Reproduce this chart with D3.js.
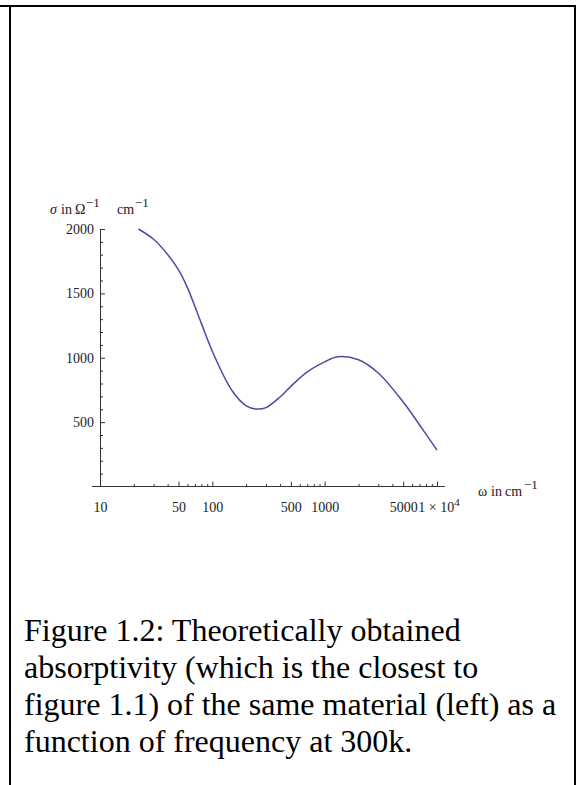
<!DOCTYPE html>
<html>
<head>
<meta charset="utf-8">
<script src="https://cdn.jsdelivr.net/npm/d3@7"></script>
<style>
  body { margin: 0; background: #fff; }
  svg { display: block; }
</style>
</head>
<body>
<svg id="fig" width="582" height="785"></svg>
<script>
// curve: omega (cm^-1) vs sigma (ohm^-1 cm^-1)
const omega = [22, 30, 40, 50, 60, 80, 100, 150, 200, 250, 300, 400, 500, 700, 1000, 1300, 2000, 3000, 5000, 7000, 10000];
const sigma = [2000, 1920, 1802, 1682, 1545, 1265, 1050, 744, 627, 602, 613, 695, 778, 890, 968, 1008, 985, 882, 656, 478, 283];

const yMajor = [500, 1000, 1500, 2000];
const yMinor = [100, 200, 300, 400, 600, 700, 800, 900, 1100, 1200, 1300, 1400, 1600, 1700, 1800, 1900];
const xMajor = [10, 50, 100, 500, 1000, 5000, 10000];
const xMinor = [20, 30, 40, 60, 70, 80, 90, 200, 300, 400, 600, 700, 800, 900, 2000, 3000, 4000, 6000, 7000, 8000, 9000];

const caption = [
  "Figure 1.2: Theoretically obtained",
  "absorptivity (which is the closest to",
  "figure 1.1) of the same material (left) as a",
  "function of frequency at 300k."
];

const serif = "'Liberation Serif', 'Times New Roman', serif";
const svg = d3.select("#fig");

// table cell borders
svg.append("line").attr("x1", 0).attr("x2", 576).attr("y1", 6).attr("y2", 6)
  .attr("stroke", "#000").attr("stroke-width", 2);
svg.append("line").attr("x1", 10).attr("x2", 10).attr("y1", 5).attr("y2", 785)
  .attr("stroke", "#000").attr("stroke-width", 2);
svg.append("line").attr("x1", 575).attr("x2", 575).attr("y1", 5).attr("y2", 785)
  .attr("stroke", "#000").attr("stroke-width", 2);

const x = d3.scaleLog().domain([10, 10000]).range([100, 437]);
const y = d3.scaleLinear().domain([0, 2000]).range([486.5, 229]);

const axisCol = "#333";
const labSize = 14;
const chart = svg.append("g");

// y axis
chart.append("g").attr("transform", "translate(100,0)")
  .call(d3.axisLeft(y).tickValues(yMajor).tickSizeInner(-5).tickSizeOuter(0).tickPadding(6)
    .tickFormat(d3.format("d")));
chart.append("g").attr("transform", "translate(100,0)")
  .call(d3.axisLeft(y).tickValues(yMinor).tickSizeInner(-3).tickSizeOuter(0).tickFormat(""))
  .select(".domain").remove();

// x axis
const xAx = chart.append("g").attr("transform", "translate(0,486.5)")
  .call(d3.axisBottom(x).tickValues(xMajor).tickSizeInner(-5).tickSizeOuter(0).tickPadding(16)
    .tickFormat(d => d === 10000 ? "" : d3.format("d")(d)));
xAx.select(".domain").remove();
chart.append("g").attr("transform", "translate(0,486.5)")
  .call(d3.axisBottom(x).tickValues(xMinor).tickSizeInner(-2.5).tickSizeOuter(0).tickFormat(""))
  .select(".domain").remove();
chart.append("line")
  .attr("x1", x(10) - 8).attr("x2", x(10000) + 8)
  .attr("y1", 486.5).attr("y2", 486.5)
  .attr("stroke", axisCol);

chart.selectAll(".tick line").attr("stroke", axisCol);
chart.selectAll(".domain").attr("stroke", axisCol);
chart.selectAll(".tick text")
  .style("font-family", serif).style("font-size", labSize + "px").attr("fill", "#222");

// "1 × 10^4" label
const lab = chart.append("text")
  .attr("x", x(10000) + 2).attr("y", 486.5 + 16).attr("dy", "0.71em")
  .attr("text-anchor", "middle")
  .style("font-family", serif).style("font-size", labSize + "px").attr("fill", "#222");
lab.append("tspan").text("1 \u00d7 10");
lab.append("tspan").attr("dy", -6).style("font-size", "11px").text("4");

// axis titles
const yt = chart.append("text").attr("y", 214)
  .style("font-family", serif).style("font-size", "14px").attr("fill", "#222");
yt.append("tspan").attr("x", 50).attr("font-style", "italic").text("\u03c3");
yt.append("tspan").attr("x", 61).text("in");
yt.append("tspan").attr("x", 75).text("\u03a9");
yt.append("tspan").attr("x", 86).attr("dy", -7).style("font-size", "13px").text("\u22121");
yt.append("tspan").attr("x", 117).attr("dy", 7).text("cm");
yt.append("tspan").attr("x", 135).attr("dy", -7).style("font-size", "13px").text("\u22121");

const xt = chart.append("text").attr("y", 496)
  .style("font-family", serif).style("font-size", "14px").attr("fill", "#222");
xt.append("tspan").attr("x", 478).text("\u03c9");
xt.append("tspan").attr("x", 491).text("in");
xt.append("tspan").attr("x", 505).text("cm");
xt.append("tspan").attr("x", 524).attr("dy", -7).style("font-size", "13px").text("\u22121");

// curve
const pts = omega.map((w, i) => [w, sigma[i]]);
chart.append("path")
  .datum(pts)
  .attr("fill", "none")
  .attr("stroke", "#4b4ba3")
  .attr("stroke-width", 1.5)
  .attr("d", d3.line().x(d => x(d[0])).y(d => y(d[1])).curve(d3.curveCatmullRom.alpha(0.5)));

// caption
svg.append("g").selectAll("text")
  .data(caption)
  .enter().append("text")
  .attr("x", 24)
  .attr("y", (d, i) => 641 + i * 37)
  .style("font-family", serif)
  .style("font-size", "32px")
  .attr("fill", "#000")
  .text(d => d);
</script>
</body>
</html>
